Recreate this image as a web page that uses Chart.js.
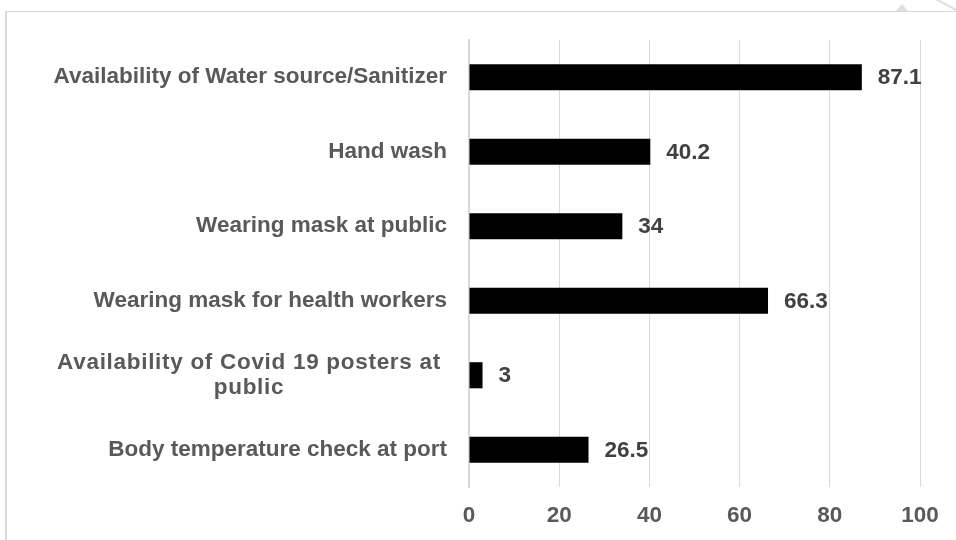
<!DOCTYPE html>
<html>
<head>
<meta charset="utf-8">
<script src="https://cdn.jsdelivr.net/npm/chart.js@4"></script>
<style>
  html, body { margin: 0; padding: 0; background: #fff; }
  #wrap { position: relative; width: 956px; height: 540px; overflow: hidden; }
  #frame { position: absolute; left: 5px; top: 11px; width: 1000px; height: 600px;
           border-top: 1px solid #d9d9d9; border-left: 2px solid #d9d9d9; }
  #notch { position: absolute; left: 896px; top: 4px; width: 0; height: 0;
           border-left: 6px solid transparent; border-right: 6px solid transparent;
           border-bottom: 7px solid #dedede; }
  #corner { position: absolute; left: 936px; top: -2px; width: 30px; height: 2px;
            background: #dedede; transform: rotate(28deg); transform-origin: 0 0; }
  canvas { position: absolute; left: 0; top: 0; }
</style>
</head>
<body>
<div id="wrap">
  <div id="frame"></div>
  <div id="notch"></div>
  <div id="corner"></div>
  <canvas id="c" width="956" height="540"></canvas>
</div>
<script>
// Preventive measures observed (%)
const CATEGORIES = [
  ["Availability of Water source/Sanitizer"],
  ["Hand wash"],
  ["Wearing mask at public"],
  ["Wearing mask for health workers"],
  ["Availability of Covid 19 posters at", "public"],
  ["Body temperature check at port"],
];
const VALUES = [87.1, 40.2, 34, 66.3, 3, 26.5];
const VALUE_LABELS = ["87.1", "40.2", "34", "66.3", "3", "26.5"];
const X_TICKS = [0, 20, 40, 60, 80, 100];

const FONT = "'Liberation Sans', Arial, sans-serif";
const FONT_SIZE = 22.5;

// category labels: right aligned, wrapped ones centred as a block
const labelPlugin = {
  id: "labels",
  afterDraw(chart) {
    const ctx = chart.ctx;
    const y = chart.scales.y;
    const right = y.right - 22;
    ctx.save();
    ctx.font = `bold ${FONT_SIZE}px ${FONT}`;
    ctx.fillStyle = "#595959";
    ctx.textBaseline = "middle";
    CATEGORIES.forEach((lines, i) => {
      const cy = y.getPixelForValue(i);
      const lh = FONT_SIZE * 1.15;
      const top = cy - (lines.length - 1) * lh / 2;
      if (lines.length > 1) {
        // wrapped label is set a touch looser and centred on its own box
        ctx.letterSpacing = "0.7px";
        ctx.textAlign = "center";
        lines.forEach((l, j) => ctx.fillText(l, right - 7 - 191, top + j * lh));
        ctx.letterSpacing = "0px";
      } else {
        ctx.textAlign = "right";
        ctx.fillText(lines[0], right, top);
      }
    });
    // value labels to the right of each bar
    const meta = chart.getDatasetMeta(0);
    ctx.fillStyle = "#404040";
    ctx.textAlign = "left";
    meta.data.forEach((bar, i) => {
      ctx.fillText(VALUE_LABELS[i], bar.x + 16, bar.y + 1);
    });
    ctx.restore();
  },
};

new Chart(document.getElementById("c"), {
  type: "bar",
  data: {
    labels: CATEGORIES.map((c) => c.join(" ")),
    datasets: [{ data: VALUES, backgroundColor: "#000000", borderWidth: 0,
      barPercentage: 0.7, categoryPercentage: 0.5 }],
  },
  options: {
    indexAxis: "y",
    responsive: false,
    animation: false,
    layout: { padding: { top: 40, right: 36, bottom: 12, left: 0 } },
    plugins: { legend: { display: false }, tooltip: { enabled: false } },
    scales: {
      x: {
        min: 0, max: 100,
        afterBuildTicks: (s) => { s.ticks = X_TICKS.map((v) => ({ value: v })); },
        grid: { color: "#d9d9d9", lineWidth: 1, drawTicks: false },
        border: { display: false },
        ticks: { color: "#595959", padding: 15, font: { family: FONT, size: FONT_SIZE, weight: "bold" } },
        afterFit: (s) => { s.height = 41; },
      },
      y: {
        grid: { display: false },
        border: { display: true, color: "#d9d9d9", width: 2 },
        ticks: { display: false },
        afterFit: (s) => { s.width = 469; },
      },
    },
  },
  plugins: [labelPlugin],
});
</script>
</body>
</html>
